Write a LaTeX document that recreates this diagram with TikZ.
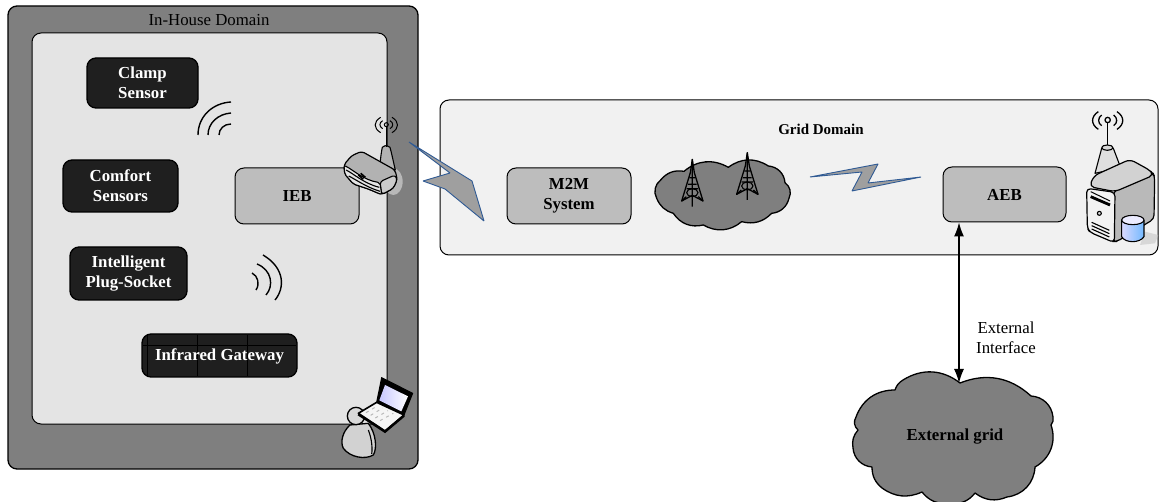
\documentclass[tikz,border=0pt]{standalone}
\usepackage{fontspec}
\setmainfont{Liberation Serif}
\usetikzlibrary{arrows.meta}
\definecolor{domdark}{HTML}{7F7F7F}
\definecolor{domlight}{HTML}{E4E4E4}
\definecolor{gridlight}{HTML}{F1F1F1}
\definecolor{boxgray}{HTML}{BDBDBD}
\definecolor{boxdark}{HTML}{1F1F1F}
\definecolor{boltblue}{HTML}{2F5A94}
\tikzset{
  x=1pt,y=-1pt,
  every node/.style={font=\fontsize{16.8}{20}\selectfont,align=center,inner sep=0pt,outer sep=0pt},
  area/.style={draw=black,line width=1.3pt,rounded corners=9pt},
  darkbox/.style={area,fill=boxdark,text=white,font=\fontsize{16.8}{20}\selectfont\bfseries},
  graybox/.style={area,fill=boxgray,line width=1pt,font=\fontsize{16.8}{20}\selectfont\bfseries},
  bolt/.style={draw=boltblue,fill=gray!75,line width=0.9pt,line join=bevel},
  wave/.style={draw=black,line width=1.4pt,line cap=butt},
  icon/.style={draw=black,line width=1.1pt,line join=round},
  zoomed/.style={x=0.3333pt,y=-0.3333pt},
  cloudline/.style={draw=black,line width=1.3pt,fill=domdark,line join=round},
}
\begin{document}
\begin{tikzpicture}
\useasboundingbox (0,0) rectangle (1159,502);
\fill[white] (0,0) rectangle (1159,502);
% In-house domain
\node[area,fill=domdark,minimum width=410pt,minimum height=463pt] (house) at (213,237.5) {};
\node[area,fill=domlight,line width=1pt,minimum width=355pt,minimum height=391pt] (inner) at (209.5,228.5) {};
\node (houselabel) at (209,20) {In-House Domain};
\node[darkbox,minimum width=111pt,minimum height=50pt] (clamp) at (142.5,83) {Clamp\\Sensor};
\node[darkbox,minimum width=115pt,minimum height=52pt] (comfort) at (120.5,186) {Comfort\\Sensors};
\node[darkbox,minimum width=117pt,minimum height=53pt] (plug) at (128.5,273.5) {Intelligent\\Plug-Socket};
\node[darkbox,minimum width=155pt,minimum height=43pt] (infra) at (219.5,355.5) {};
\draw[black,line width=0.7pt] (147,335)--(147,376) (197,335)--(197,376) (247,335)--(247,376) (143,345.5)--(296,345.5);
\node[text=white,font=\fontsize{16.8}{20}\selectfont\bfseries] (infralabel) at (219.5,356) {Infrared Gateway};
\node[graybox,minimum width=124pt,minimum height=56pt] (ieb) at (297,196) {IEB};
% wifi waves
\draw[wave] (198,135) .. controls (198,116) and (213,103) .. (231,102);
\draw[wave] (208,135) .. controls (208,123) and (218,114) .. (231,113);
\draw[wave] (219,135) .. controls (219,129) and (224,124) .. (231,124);
\draw[wave] (252,273) .. controls (258,276) and (260,284) .. (256,290);
\draw[wave] (257,264) .. controls (272,270) and (274,286) .. (266,295);
\draw[wave] (263,255) .. controls (285,268) and (285,288) .. (275,300);
% Grid domain
\node[area,fill=gridlight,line width=1pt,minimum width=718pt,minimum height=155pt] (grid) at (799,177.5) {};
\node[font=\fontsize{15}{18}\selectfont\bfseries] (gridlabel) at (821,129) {Grid Domain};
\node[graybox,minimum width=124pt,minimum height=56pt] (m2m) at (569,196) {M2M\\System};
\node[graybox,minimum width=123pt,minimum height=55pt] (aeb) at (1004.5,194.5) {AEB};
% wide bolt
\path[bolt] (409,142)--(472,181)--(484,221)--(445,189)--(423,181)--(450,173)--cycle;
% small cloud with towers
\begin{scope}[shift={(640,130)},zoomed]
\node[minimum size=0pt] (cloudsmall) at (248,190) {};
\draw[cloudline] (50,205) to[bend left=40] (62,150) to[bend left=30] (132,124) to[bend left=35] (265,112) to[bend left=35] (385,108) to[bend left=40] (435,158) to[bend left=40] (447,205) to[bend left=35] (395,250) to[bend left=30] (305,275) to[bend left=35] (190,285) to[bend left=35] (100,250) to[bend left=25] (50,205) -- cycle;
\foreach \tx/\ty in {157/88,322/68}{
\begin{scope}[shift={(\tx,\ty)}]
\draw[black,line width=1.3pt,line join=round] (0,0)--(-6,40)--(-32,125)--(0,108)--(32,125)--(6,40)--cycle;
\draw[black,line width=1.3pt] (0,0)--(0,142) (-9,55)--(9,55) (-13,75)--(13,75) (-17,88)--(17,88) (-32,125)--(-18,112) (32,125)--(18,112);
\draw[black,line width=1.1pt] (0,100) circle[x radius=17,y radius=12];
\end{scope}}
\end{scope}
% thin bolt
\path[bolt] (810,177)--(878,164)--(868,183)--(921,177)--(852,191)--(862,172)--cycle;
% external cloud
\node[minimum size=0pt] (extcentre) at (955,437) {};
\draw[cloudline] (960,383) to[bend left=32] (1031,396) to[bend left=40] (1053,417) to[bend left=25] (1051,425) to[bend left=40] (1035,467) to[bend left=40] (1007,497) to[bend left=30] (975,493) to[bend left=30] (950,503) to[bend left=30] (922,492) to[bend left=30] (882,488) to[bend left=25] (872,467) to[bend left=40] (853,448) to[bend left=25] (858,430) to[bend left=40] (856,417) to[bend left=35] (895,390) to[bend left=20] (903,380) to[bend left=35] (960,383) -- cycle;
\node[font=\fontsize{16.8}{20}\selectfont\bfseries] (extlabel) at (955,437) {External grid};
% connector
\coordinate (aebport) at (959,222.5);
\coordinate (gridport) at (959,383);
\draw[{Latex[length=14pt,width=10pt]}-{Latex[length=14pt,width=10pt]},line width=1.2pt] (aebport) -- (gridport);
\node (iface) at (1006,338) {External\\Interface};
% router
\begin{scope}[shift={(340,90)},zoomed]
\fill[white,opacity=.45] (160,275) ellipse[x radius=28,y radius=40];
\draw[icon,fill=gray!60] (120,225) .. controls (122,200) and (125,180) .. (127,172) .. controls (135,165) and (145,165) .. (150,172) .. controls (155,190) and (160,215) .. (166,240) -- cycle;
\draw[icon,line width=1pt] (139,170)--(139,110);
\draw[icon,line width=1pt] (139,104) circle[radius=6];
\draw[icon,line width=1pt] (122,82) .. controls (100,95) and (100,115) .. (122,128);
\draw[icon,line width=1pt] (128,92) .. controls (117,98) and (117,110) .. (128,116);
\draw[icon,line width=1pt] (156,82) .. controls (178,95) and (178,115) .. (156,128);
\draw[icon,line width=1pt] (150,92) .. controls (161,98) and (161,110) .. (150,116);
\draw[icon,fill=gray!60,line width=1.2pt,rounded corners=3pt] (12,224) -- (35,197) -- (65,184) -- (165,240) -- (172,268) -- (160,295) -- (125,314) -- (85,297) -- (40,282) -- (14,252) -- cycle;
\draw[icon,fill=gray!40,rounded corners=3pt] (120,275) -- (165,255) -- (172,268) -- (160,295) -- (125,314) -- cycle;
\draw[icon,fill=gray!20,rounded corners=2pt] (12,226) .. controls (40,240) and (70,270) .. (120,278) -- (125,314) -- (85,297) -- (40,282) -- (14,252) -- cycle;
\draw[icon] (18,240) .. controls (40,250) and (70,280) .. (118,292) (26,258) .. controls (50,270) and (80,292) .. (120,304);
\draw[black,line width=1.6pt] (55,255)--(70,268) (62,250)--(76,262);
\end{scope}
% server
\begin{scope}[shift={(1050,95)},zoomed]
\fill[gray!45,opacity=.6] (285,410) -- (325,420) -- (315,445) -- (270,450) -- cycle;
\draw[icon,fill=gray!25] (155,160) -- (135,235) -- (212,218) -- (190,160) -- cycle;
\draw[icon,fill=gray!30] (172,158) ellipse[x radius=17,y radius=8];
\draw[icon,line width=1.3pt] (173,150)--(173,83);
\draw[icon,line width=1.3pt] (173,75) circle[radius=8];
\draw[icon,line width=1.3pt] (145,50) .. controls (122,65) and (122,88) .. (145,103);
\draw[icon,line width=1.3pt] (155,60) .. controls (143,68) and (143,85) .. (155,92);
\draw[icon,line width=1.3pt] (201,50) .. controls (224,65) and (224,88) .. (201,103);
\draw[icon,line width=1.3pt] (191,60) .. controls (203,68) and (203,85) .. (191,92);
\draw[icon,fill=gray!55,line width=1.2pt,rounded corners=4pt] (190,290) -- (308,232) -- (314,245) -- (312,372) -- (200,440) -- (188,440) -- cycle;
\draw[icon,fill=gray!35,line width=1.2pt,rounded corners=5pt] (118,275) -- (132,242) -- (240,193) -- (300,226) -- (312,240) -- (195,290) -- cycle;
\draw[icon,fill=gray!10,line width=1.2pt,rounded corners=4pt] (110,280) -- (195,292) -- (193,443) -- (120,412) -- (112,400) -- cycle;
\draw[black,line width=2.8pt] (122,305)--(180,330);
\draw[icon,line width=1pt] (122,290)--(180,318);
\draw[icon,fill=gray!30] (148,355) circle[radius=6];
\draw[icon] (125,382)--(178,406) (125,392)--(178,416) (125,402)--(178,426);
\shade[left color=blue!15,right color=blue!50!cyan!55!white] (215,375) -- (215,425) .. controls (225,445) and (270,445) .. (282,425) -- (282,375) -- cycle;
\draw[icon,line width=1.1pt] (215,375) -- (215,425) .. controls (225,445) and (270,445) .. (282,425) -- (282,375);
\draw[icon,fill=blue!8,line width=1.1pt] (248.5,375) ellipse[x radius=33.5,y radius=14];
\end{scope}
% user with laptop
\begin{scope}[shift={(340,370)},zoomed]
\draw[icon,fill=gray!35,line width=1.3pt] (30,165) .. controls (8,185) and (0,215) .. (10,235) .. controls (30,262) and (75,270) .. (100,255) .. controls (112,235) and (108,190) .. (85,160) -- cycle;
\draw[icon,line width=1.1pt] (85,180) .. controls (95,205) and (98,235) .. (95,252);
\draw[icon,fill=gray!30,line width=1.3pt] (48,138) circle[x radius=26,y radius=26];
\draw[icon,fill=black,line width=1pt] (125,23) -- (218,70) -- (192,135) -- (110,97) -- cycle;
\shade[left color=blue!22,right color=white] (135,45) -- (204,79) -- (184,124) -- (118,91) -- cycle;
\draw[icon,fill=gray!8,line width=1.6pt] (55,130) -- (110,97) -- (192,135) -- (135,183) -- cycle;
\draw[gray!55,line width=1pt,dash pattern=on 3pt off 4pt] (78,128)--(112,108) (92,136)--(128,114) (106,144)--(144,122) (120,152)--(160,130);
\draw[black,line width=2.4pt] (55,133) -- (135,185) -- (192,137);
\end{scope}
\end{tikzpicture}
\end{document}
